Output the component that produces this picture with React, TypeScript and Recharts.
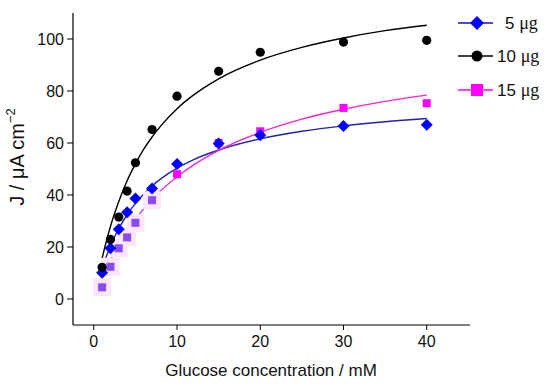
import { ComposedChart, Line, Scatter, XAxis, YAxis } from 'recharts';

// measured glucose concentrations (mM)
const concX = [1, 2, 3, 4, 5, 7, 10, 15, 20, 30, 40];
// current density J (µA cm-2) for each enzyme loading
const j5 = [10.1, 19.5, 26.8, 33.4, 38.7, 42.5, 51.9, 59.8, 63.0, 66.5, 67.0];
const j10 = [12.2, 22.9, 31.5, 41.5, 52.4, 65.2, 78.0, 87.6, 94.9, 98.8, 99.5];
const j15 = [4.5, 12.4, 19.5, 23.7, 29.3, 38.0, 48.0, 60.0, 64.5, 73.5, 75.3];

// fitted curves
const curveX = [1, 1.5, 2, 3, 4, 5, 6, 7, 8, 10, 12, 15, 20, 25, 30, 35, 40];
const fit5 = [11.7, 16.3, 20.4, 27.1, 32.4, 36.8, 40.4, 43.5, 46.1, 50.3, 53.6, 57.3, 61.6, 64.5, 66.6, 68.2, 69.4];
const fit10 = [15.7, 22.1, 27.9, 37.5, 45.5, 52.0, 57.6, 62.3, 66.4, 73.2, 78.5, 84.7, 91.9, 96.8, 100.4, 103.2, 105.3];
const fit15 = [8.1, 11.7, 15.0, 20.9, 26.1, 30.6, 34.7, 38.3, 41.5, 47.0, 51.6, 57.2, 64.1, 69.2, 73.0, 76.0, 78.4];

const xTicks = [0, 10, 20, 30, 40];
const yTicks = [0, 20, 40, 60, 80, 100];
const seriesNames = ['5', '10', '15'];

const toPts = (xs: number[], ys: number[]) => xs.map((x, i) => ({ x, y: ys[i] }));

const pts5 = toPts(concX, j5);
const pts10 = toPts(concX, j10);
const pts15 = toPts(concX, j15);
const line5 = toPts(curveX, fit5);
const line10 = toPts(curveX, fit10);
const line15 = toPts(curveX, fit15);

const FONT = '"Liberation Sans", Arial, sans-serif';

const Diamond = ({ cx, cy, s = 6, fill = '#0000ff' }: any) => (
    <polygon points={`${cx},${cy - s} ${cx + s},${cy} ${cx},${cy + s} ${cx - s},${cy}`} fill={fill} />
);
const Dot = ({ cx, cy, r = 4.6 }: any) => <circle cx={cx} cy={cy} r={r} fill="#000" />;
const Square = ({ cx, cy, payload }: any) => {
    const early = payload && payload.x <= 7;
    return <rect x={cx - 4} y={cy - 4} width={8} height={8} fill={early ? '#8a4cf2' : '#ff00ff'} />;
};
const Halo = ({ cx, cy, payload }: any) =>
    payload && payload.x <= 7 ? (
        <rect x={cx - 9} y={cy - 9} width={18} height={18} fill="#fde6f8" />
    ) : (
        <g />
    );

const legendColors = ['#1515c0', '#000', '#ff00ff'];

// legend drawn on top of the chart, top right
const LegendBox = () => (
    <svg width={100} height={110} style={{ position: 'absolute', left: 450, top: 0 }}>
        {seriesNames.map((n, i) => {
            const y = [23, 56, 90][i];
            return (
                <g key={n}>
                    <line x1={8} x2={43} y1={y} y2={y} stroke={legendColors[i]} strokeWidth={1.5} />
                    {i === 0 && <Diamond cx={27} cy={y} s={7} />}
                    {i === 1 && <Dot cx={27} cy={y} r={5.5} />}
                    {i === 2 && <rect x={21} y={y - 6} width={12} height={12} fill="#ff00ff" />}
                    <text x={i === 0 ? 55 : 47} y={y + 6} fontSize={17} fontFamily={FONT} fill="#111">
                        {n}{' '}
                        <tspan fontFamily='"Liberation Serif", serif' fontSize={18}>μg</tspan>
                    </text>
                </g>
            );
        })}
    </svg>
);

export default function App() {
    return (
        <div style={{ position: 'absolute', left: 0, top: 0, width: 550, height: 386, background: '#fff' }}>
            <ComposedChart width={550} height={386} margin={{ top: 13, right: 80, bottom: 0, left: 0 }}>
                <defs>
                    <linearGradient id="pinkGrad" x1="0" y1="0" x2="1" y2="0">
                        <stop offset="0" stopColor="#8a55e8" />
                        <stop offset="0.14" stopColor="#9a50e6" />
                        <stop offset="0.26" stopColor="#ff22cc" />
                        <stop offset="1" stopColor="#ff22cc" />
                    </linearGradient>
                </defs>
                <XAxis
                    type="number"
                    dataKey="x"
                    domain={[-2.5, 45.2]}
                    ticks={xTicks}
                    allowDataOverflow
                    height={61}
                    tickSize={5}
                    tickMargin={6}
                    axisLine={{ stroke: '#000', strokeWidth: 1.2 }}
                    tickLine={{ stroke: '#000', strokeWidth: 1 }}
                    tick={{ fill: '#111', fontSize: 16, fontFamily: FONT }}
                    label={() => (
                        <text x={271} y={376} textAnchor="middle" fontSize={17} fontFamily={FONT} fill="#111">
                            Glucose concentration / mM
                        </text>
                    )}
                />
                <YAxis
                    type="number"
                    dataKey="y"
                    domain={[-10, 110]}
                    ticks={yTicks}
                    allowDataOverflow
                    width={73}
                    tickSize={6}
                    tickMargin={3}
                    axisLine={{ stroke: '#000', strokeWidth: 1.2 }}
                    tickLine={{ stroke: '#000', strokeWidth: 1 }}
                    tick={{ fill: '#111', fontSize: 16, fontFamily: FONT }}
                    label={() => (
                        <text
                            transform="translate(24 157) rotate(-90)"
                            textAnchor="middle"
                            fontSize={20}
                            fontFamily={FONT}
                            fill="#111"
                        >
                            J / μA cm
                            <tspan fontSize={13} dy={-9}>−2</tspan>
                        </text>
                    )}
                />
                <Scatter data={pts15} dataKey="y" shape={<Halo />} isAnimationActive={false} legendType="none" />
                <Line data={line10} dataKey="y" type="monotone" stroke="#000" strokeWidth={1.4} dot={false} isAnimationActive={false} />
                <Line data={line5} dataKey="y" type="monotone" stroke="#2222b0" strokeWidth={1.4} dot={false} isAnimationActive={false} />
                <Line data={line15} dataKey="y" type="monotone" stroke="url(#pinkGrad)" strokeWidth={1.4} dot={false} isAnimationActive={false} />
                <Scatter data={pts15} dataKey="y" shape={<Square />} isAnimationActive={false} />
                <Scatter data={pts5} dataKey="y" shape={<Diamond />} isAnimationActive={false} />
                <Scatter data={pts10} dataKey="y" shape={<Dot />} isAnimationActive={false} />
            </ComposedChart>
            <LegendBox />
        </div>
    );
}
